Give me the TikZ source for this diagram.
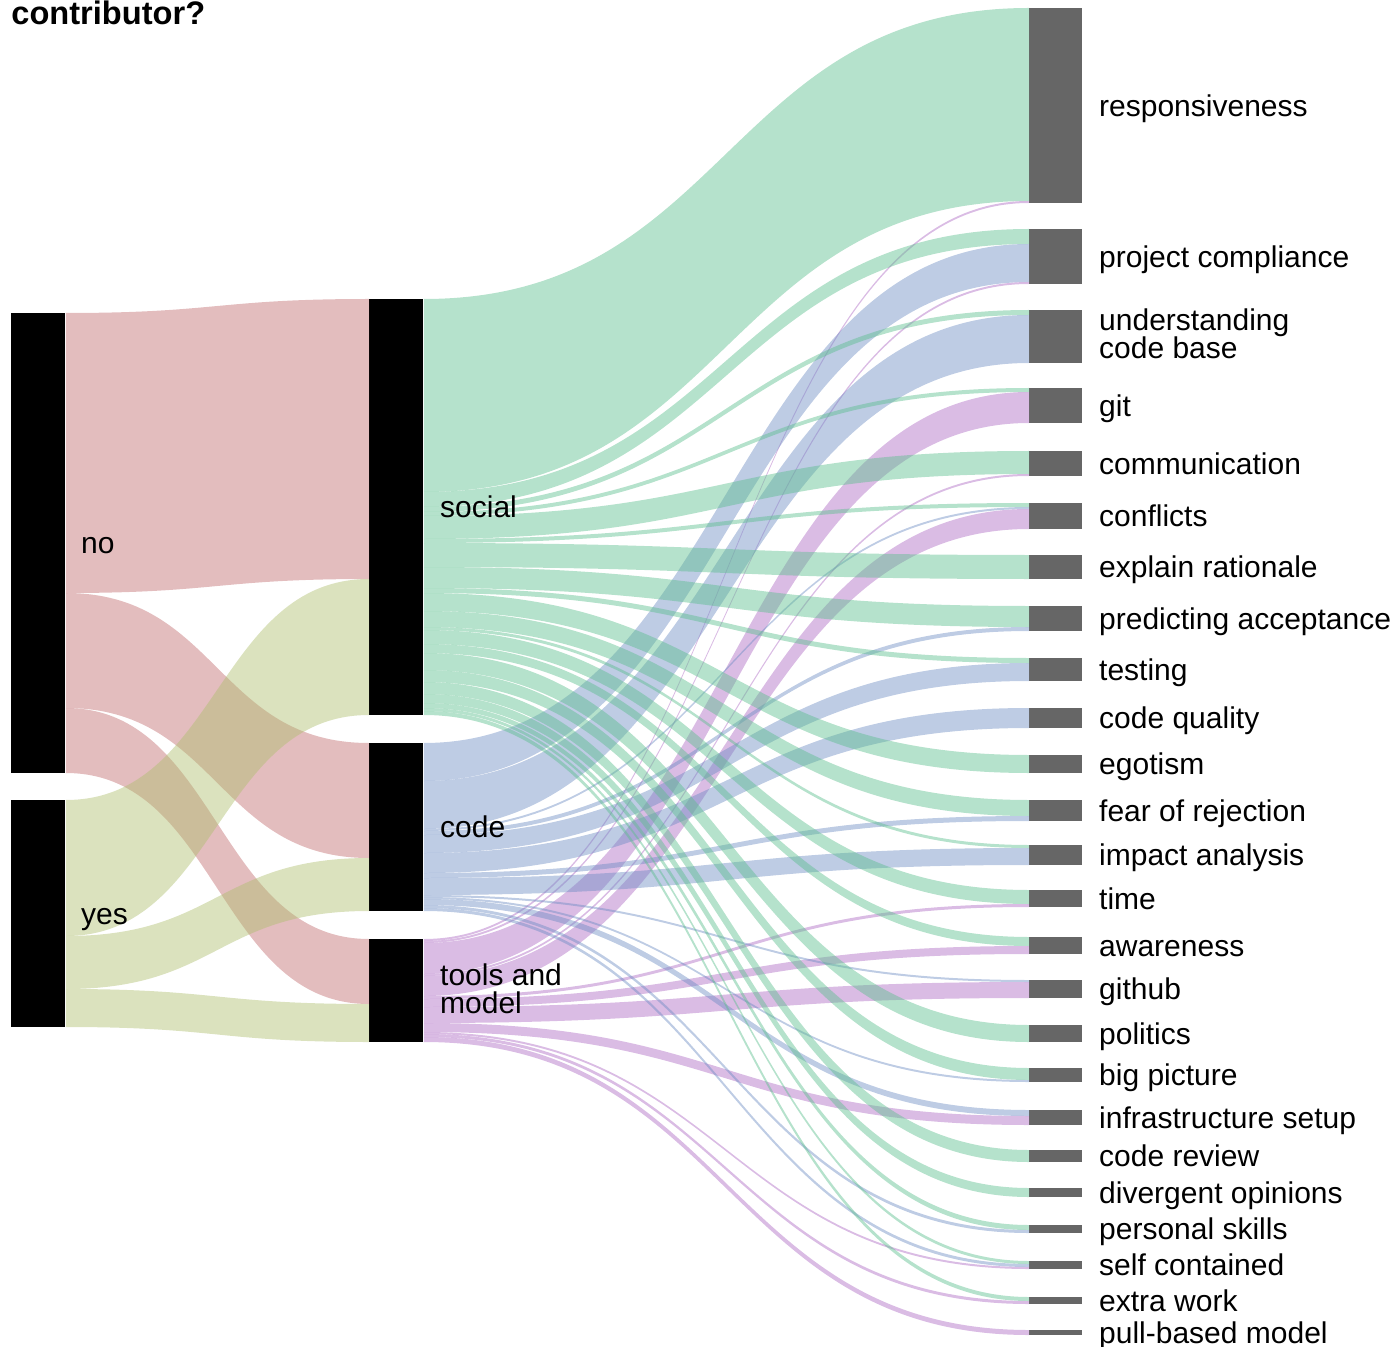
\documentclass[tikz,border=0pt]{standalone}
\usepackage{fontspec}
\setmainfont{Liberation Sans}
\usetikzlibrary{calc}
\definecolor{nopink}{RGB}{193,108,111}
\definecolor{yesolive}{RGB}{175,191,111}
\definecolor{socialgreen}{RGB}{92,190,141}
\definecolor{codeblue}{RGB}{110,141,195}
\definecolor{toolspurple}{RGB}{173,106,195}
\def\putoffset(#1)(#2){\expandafter\xdef\csname off@#1\endcsname{#2}}
\def\linkband[#1](#2)(#3)(#4){%
	\ifdim #4pt>0pt
	\pgfmathsetmacro\bandsa{\csname off@out@#2\endcsname}%
	\pgfmathsetmacro\bandsb{\csname off@in@#3\endcsname}%
	\pgfmathsetmacro\bandea{\bandsa+#4}%
	\pgfmathsetmacro\bandeb{\bandsb+#4}%
	\coordinate (ba) at ($(#2.north east)+(0,\bandsa)$);
	\coordinate (bb) at ($(#3.north west)+(0,\bandsb)$);
	\coordinate (bc) at ($(#3.north west)+(0,\bandeb)$);
	\coordinate (bd) at ($(#2.north east)+(0,\bandea)$);
	\coordinate (bm) at ($(ba)!0.5!(bb)$);
	\fill[#1] (ba) .. controls (bm |- ba) and (bm |- bb) .. (bb) -- (bc) .. controls (bm |- bc) and (bm |- bd) .. (bd) -- cycle;
	\putoffset(out@#2)(\bandea)\putoffset(in@#3)(\bandeb)%
	\fi}

\begin{document}
\begin{tikzpicture}[x=0.5pt, y=-0.5pt,
	bar/.style={fill=black, inner sep=0pt, minimum width=27pt, anchor=north west},
	item/.style={fill=black!60, inner sep=0pt, minimum width=26.5pt, anchor=north west},
	lbl/.style={font=\fontsize{15}{14}\selectfont, anchor=base west, align=left, inner sep=0pt},
	no link/.style={fill=nopink, fill opacity=0.45},
	yes link/.style={fill=yesolive, fill opacity=0.45},
	social link/.style={fill=socialgreen, fill opacity=0.45},
	code link/.style={fill=codeblue, fill opacity=0.45},
	tools link/.style={fill=toolspurple, fill opacity=0.45}]
		%%%%% START %%%%%
		
		\useasboundingbox (0,0) rectangle (1396,1347);
		\node[font=\bfseries\fontsize{16.3}{18}\selectfont, anchor=base west, inner sep=0pt] (title) at (11,25) {contributor?};
		
		\node[bar, minimum height=230pt] (no) at (11,313) {};
		\node[bar, minimum height=113.5pt] (yes) at (11,800) {};
		
		\node[bar, minimum height=208pt] (social) at (369,299) {};
		\node[bar, minimum height=84pt] (code) at (369,743) {};
		\node[bar, minimum height=51.5pt] (tools) at (369,939) {};
		
		\foreach \nm in {no,yes,social,code,tools} {\putoffset(in@\nm)(0)\putoffset(out@\nm)(0)}
		
		\foreach \nm/\ytop/\h/\dy/\txt in {resp/8/195/10.5/responsiveness,
			compliance/229/55/10.5/project compliance,
			understanding/310/53/21.5/{understanding\\code base},
			git/388/35/10.5/git,
			communication/451/25/10.5/communication,
			conflicts/503/26/10.5/conflicts,
			rationale/555/24/10.5/explain rationale,
			acceptance/606/25/10.5/predicting acceptance,
			testing/658/23/10.5/testing,
			quality/708/20/10.5/code quality,
			egotism/755/18/10.5/egotism,
			rejection/800/21/10.5/fear of rejection,
			impact/845/20/10.5/impact analysis,
			time/890/17/10.5/time,
			awareness/937/17/10.5/awareness,
			github/980/18/10.5/github,
			politics/1025/17/10.5/politics,
			bigpicture/1068/14/10.5/big picture,
			infra/1110/15/10.5/infrastructure setup,
			review/1150/12/10.5/code review,
			divergent/1188/9/10.5/divergent opinions,
			skills/1225/8/10.5/personal skills,
			contained/1261/8/10.5/self contained,
			extrawork/1297/7/10.5/extra work,
			pullbased/1330/5/10.5/pull-based model} {
			\node[item, minimum height=\h*0.5pt] (\nm) at (1029,\ytop) {};
			\node[lbl] (\nm-lbl) at ($(\nm.east)+(16,\dy)$) {\txt};
			\putoffset(in@\nm)(0)
		}
		
		\linkband[no link](no)(social)(280)
		\linkband[no link](no)(code)(115)
		\linkband[no link](no)(tools)(65)
		\linkband[yes link](yes)(social)(136)
		\linkband[yes link](yes)(code)(53)
		\linkband[yes link](yes)(tools)(38)
		
		\foreach \nm/\g/\b/\p in {resp/193/0/2, compliance/15/38/2, understanding/5/48/0,
			git/4/0/31, communication/23/0/2, conflicts/4/2/20, rationale/24/0/0,
			acceptance/21/4/0, testing/5/18/0, quality/0/20/0, egotism/18/0/0,
			rejection/16/5/0, impact/3/17/0, time/14/0/3, awareness/9/0/8,
			github/0/2/16, politics/17/0/0, bigpicture/12/2/0, infra/0/6/9,
			review/12/0/0, divergent/9/0/0, skills/5/3/0, contained/3/3/2,
			extrawork/4/0/3, pullbased/0/0/5} {
			\linkband[social link](social)(\nm)(\g)
			\linkband[code link](code)(\nm)(\b)
			\linkband[tools link](tools)(\nm)(\p)
		}
		
		\node[lbl] (no-lbl) at ($(no.east)+(15,10.5)$) {no};
		\node[lbl] (yes-lbl) at ($(yes.east)+(15,10.5)$) {yes};
		\node[lbl] (social-lbl) at ($(social.east)+(16,10.5)$) {social};
		\node[lbl] (code-lbl) at ($(code.east)+(16,10.5)$) {code};
		\node[lbl] (tools-lbl) at ($(tools.east)+(16,22.5)$) {tools and\\model};
		
		%%%%% END %%%%%
\end{tikzpicture}
\end{document}
